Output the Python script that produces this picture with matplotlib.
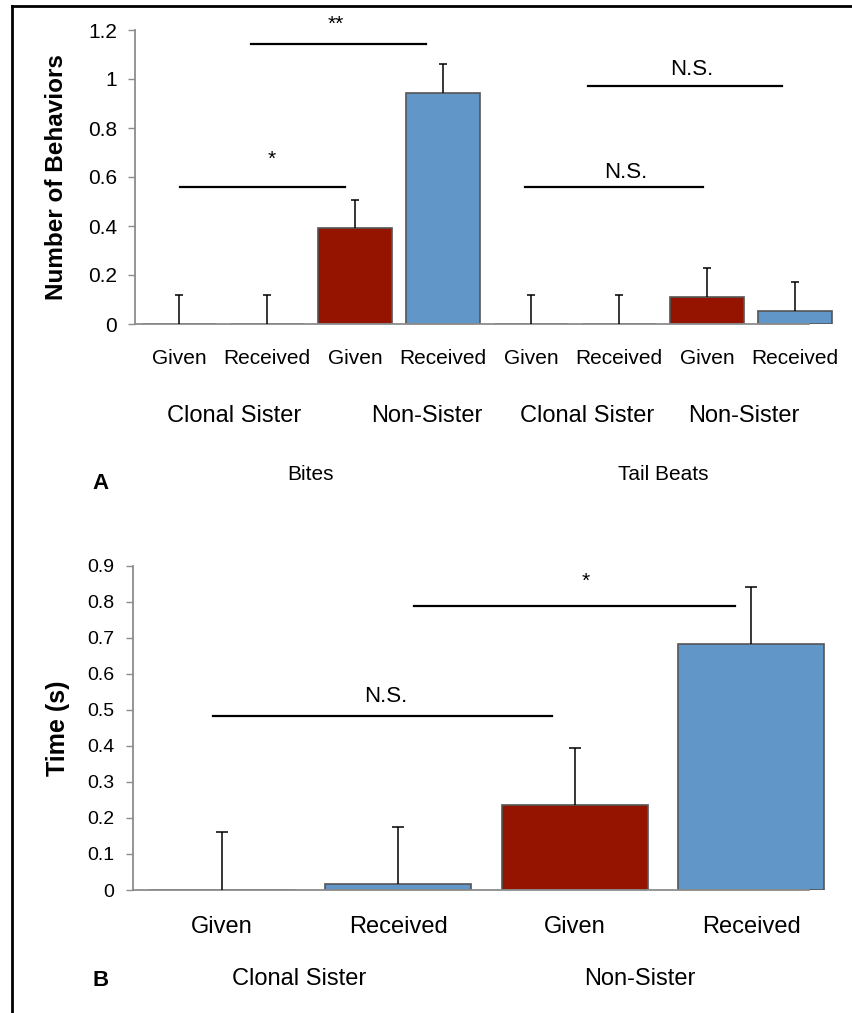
import matplotlib
matplotlib.use("Agg")
import matplotlib.pyplot as plt
import matplotlib.transforms as mtransforms
from matplotlib.lines import Line2D
import numpy as np

plt.rcParams['font.family'] = ['Liberation Sans', 'DejaVu Sans']

# panel A: counts of behaviours (bites, tail beats)
a_roles = ["Given", "Received", "Given", "Received",
           "Given", "Received", "Given", "Received"]
a_values = [0, 0, 0.39, 0.943, 0, 0, 0.111, 0.055]
a_errors = [0.117, 0.117, 0.117, 0.119, 0.117, 0.117, 0.118, 0.116]
a_partners = ["Clonal Sister", "Non-Sister", "Clonal Sister", "Non-Sister"]
a_behaviours = ["Bites", "Tail Beats"]

# panel B: time spent (s)
b_roles = ["Given", "Received", "Given", "Received"]
b_values = [0, 0.0175, 0.236, 0.682]
b_errors = [0.160, 0.158, 0.158, 0.160]
b_partners = ["Clonal Sister", "Non-Sister"]

RED = "#941400"
BLUE = "#6096c8"
a_colors = [RED, BLUE] * 4
b_colors = [RED, BLUE] * 2

W, H = 853, 1013
fig = plt.figure(figsize=(W / 100, H / 100), dpi=100)


def fig_box(x0, x1, ytop, ybot):
    return [x0 / W, 1 - ybot / H, (x1 - x0) / W, (ybot - ytop) / H]


def fy(py):
    return 1 - py / H


def style_axis(ax, right_end):
    for s in ("top", "right"):
        ax.spines[s].set_visible(False)
    for s in ("left", "bottom"):
        ax.spines[s].set_color("#8c8c8c")
        ax.spines[s].set_linewidth(1.3)
    ax.spines["bottom"].set_bounds(-0.5, right_end)
    ax.tick_params(axis="x", length=0, labelbottom=False)
    ax.tick_params(axis="y", color="#8c8c8c", length=5, width=1.0)


def upper_errors(ax, x, vals, errs, cap):
    # one-sided error bars: stem from bar top, cap only at the upper end
    vals = np.asarray(vals)
    tops = vals + np.asarray(errs)
    ax.vlines(x, vals, tops, color="black", lw=1.1, zorder=3)
    ax.plot(x, tops, ls="none", marker="_", ms=cap, mew=1.1, color="black", zorder=3)


def sig(ax, x0, x1, y, label, tx, ty, size):
    ax.plot([x0, x1], [y, y], color="black", lw=1.6, clip_on=False)
    ax.text(tx, ty, label, ha="center", va="center", fontsize=size, clip_on=False)


# ---- panel A ----
axA = fig.add_axes(fig_box(135, 839, 30, 324))
xa = np.arange(len(a_values))
axA.bar(xa, a_values, width=0.83, color=a_colors, edgecolor="#555555", linewidth=1.2, zorder=2)
upper_errors(axA, xa, a_values, a_errors, 6)
axA.set_xlim(-0.5, 7.5)
axA.set_ylim(0, 1.2)
axA.set_yticks(np.arange(0, 1.21, 0.2))
axA.set_yticklabels(["0", "0.2", "0.4", "0.6", "0.8", "1", "1.2"], fontsize=15)
axA.tick_params(axis="y", pad=8)
style_axis(axA, 7.16)

sig(axA, 0.82, 2.81, 1.144, "**", 1.78, 1.222, 15)
sig(axA, 0.01, 1.89, 0.559, "*", 1.05, 0.672, 15)
sig(axA, 4.65, 6.85, 0.971, "N.S.", 5.83, 1.04, 16)
sig(axA, 3.93, 5.95, 0.559, "N.S.", 5.08, 0.62, 16)

tA = mtransforms.blended_transform_factory(axA.transData, fig.transFigure)
for i, r in enumerate(a_roles):
    fig.text(i, fy(358), r, transform=tA, ha="center", va="center", fontsize=15)
for x, p in zip([0.63, 2.82, 4.64, 6.42], a_partners):
    fig.text(x, fy(416), p, transform=tA, ha="center", va="center", fontsize=17)
for x, b in zip([1.5, 5.5], a_behaviours):
    fig.text(x, fy(475), b, transform=tA, ha="center", va="center", fontsize=15)
fig.text(101 / W, fy(483), "A", ha="center", va="center", fontsize=16, fontweight="bold")
fig.text(57 / W, fy(177), "Number of Behaviors", rotation=90, ha="center", va="center",
         fontsize=17.5, fontweight="bold")

# ---- panel B ----
axB = fig.add_axes(fig_box(133.5, 839.5, 565.7, 890))
xb = np.arange(len(b_values))
axB.bar(xb, b_values, width=0.83, color=b_colors, edgecolor="#555555", linewidth=1.2, zorder=2)
upper_errors(axB, xb, b_values, b_errors, 8)
axB.set_xlim(-0.5, 3.5)
axB.set_ylim(0, 0.9)
axB.set_yticks(np.arange(0, 0.91, 0.1))
axB.set_yticklabels(["0"] + ["%.1f" % v for v in np.arange(0.1, 0.91, 0.1)], fontsize=14)
axB.tick_params(axis="y", pad=9)
style_axis(axB, 3.33)

sig(axB, -0.05, 1.87, 0.484, "N.S.", 0.93, 0.536, 16)
sig(axB, 1.09, 2.91, 0.787, "*", 2.06, 0.858, 15)

tB = mtransforms.blended_transform_factory(axB.transData, fig.transFigure)
for i, r in enumerate(b_roles):
    fig.text(i, fy(927), r, transform=tB, ha="center", va="center", fontsize=17)
for x, p in zip([0.44, 2.37], b_partners):
    fig.text(x, fy(979), p, transform=tB, ha="center", va="center", fontsize=17)
fig.text(101 / W, fy(980), "B", ha="center", va="center", fontsize=16, fontweight="bold")
fig.text(58 / W, fy(728), "Time (s)", rotation=90, ha="center", va="center",
         fontsize=18, fontweight="bold")

# outer frame: top and left edges only
fig.add_artist(Line2D([12 / W, 1], [fy(6), fy(6)], color="black", lw=2.0))
fig.add_artist(Line2D([12 / W, 12 / W], [fy(6), 0], color="black", lw=2.0))

fig.savefig("out.png", dpi=100)
